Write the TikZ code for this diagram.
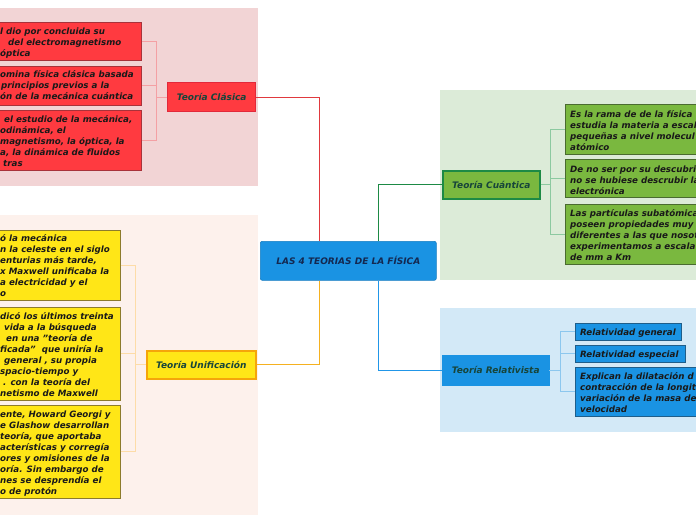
\documentclass[tikz,border=0pt]{standalone}
\usepackage{fontspec}
\setmainfont{DejaVu Sans}
\definecolor{redbg}{HTML}{F2D4D5}
\definecolor{orbg}{HTML}{FDF1EC}
\definecolor{grbg}{HTML}{DCEBD8}
\definecolor{blbg}{HTML}{D3E9F7}
\definecolor{redfill}{HTML}{FF3A40}
\definecolor{redborder}{HTML}{A8323A}
\definecolor{redtop}{HTML}{E2283A}
\definecolor{redline}{HTML}{E0393E}
\definecolor{redthin}{HTML}{F4A0A4}
\definecolor{yelfill}{HTML}{FFE617}
\definecolor{yelborder}{HTML}{8C7B2C}
\definecolor{orborder}{HTML}{F5A50A}
\definecolor{orline}{HTML}{F5B120}
\definecolor{orthin}{HTML}{FDDCA8}
\definecolor{grfill}{HTML}{7AB83F}
\definecolor{grborder}{HTML}{1D8A45}
\definecolor{grleafborder}{HTML}{4A6B30}
\definecolor{grline}{HTML}{1D8A45}
\definecolor{grthin}{HTML}{8CC9A0}
\definecolor{blfill}{HTML}{1A93E3}
\definecolor{blborder}{HTML}{1F5E8A}
\definecolor{blline}{HTML}{2196E8}
\definecolor{blthin}{HTML}{8CC7EE}
\definecolor{toptext}{HTML}{17453A}
\definecolor{centext}{HTML}{142850}
\newcommand\leaftxt{\fontsize{8.7}{11}\selectfont\bfseries\itshape}
\newcommand\toptxt{\fontsize{9}{10}\selectfont\bfseries\itshape}
\newcommand\sr{\rule{0pt}{8pt}}
\newcommand\IN[1]{\hspace*{#1pt}}
\tikzset{
  boxbase/.style={anchor=north west, inner sep=0pt, line width=0.8pt},
  redleaf/.style={boxbase, fill=redfill, draw=redborder},
  yelleaf/.style={boxbase, fill=yelfill, draw=yelborder},
  grleaf/.style={boxbase, fill=grfill, draw=grleafborder},
  blleaf/.style={boxbase, fill=blfill, draw=blborder},
  leaftext/.style={font=\leaftxt, align=left, anchor=north west, inner sep=0pt, text=black!90},
  topic/.style={font=\toptxt, text=toptext, inner sep=0pt, anchor=north west},
  mainline/.style={line width=1.1pt},
  thinline/.style={line width=1pt},
}
\begin{document}
\begin{tikzpicture}[x=1pt,y=-1pt]
\useasboundingbox (0,0) rectangle (696,520);
\clip (0,0) rectangle (696,520);
\fill[white] (0,0) rectangle (696,520);
% background areas
\fill[redbg] (0,8) rectangle (258,186);
\fill[orbg] (0,215) rectangle (258,515);
\fill[grbg] (440,90) rectangle (696,280);
\fill[blbg] (440,308) rectangle (696,432);

% central node
\node[anchor=north west, minimum width=176pt, minimum height=39pt, fill=blfill, draw=blfill!85!black, line width=0.6pt, rounded corners=2pt, font=\toptxt, text=centext] (c) at (260,241) {LAS 4 TEORIAS DE LA FÍSICA};

% topic nodes
\node[topic, minimum width=88pt, minimum height=29pt, fill=redfill, draw=redtop, line width=1.4pt] (cla) at (167,82) {Teoría Clásica};
\node[topic, minimum width=109pt, minimum height=28pt, fill=yelfill, draw=orborder, line width=1.6pt] (uni) at (146,350) {Teoría Unificación};
\node[topic, minimum width=97pt, minimum height=28pt, fill=grfill, draw=grborder, line width=1.6pt] (cua) at (442,170) {Teoría Cuántica};
\node[topic, minimum width=107pt, minimum height=30pt, fill=blfill, draw=blfill] (rel) at (442,355) {Teoría Relativista};

% red leaves
\node[redleaf, minimum width=153pt, minimum height=38pt] (r1) at (-12,22) {};
\node[redleaf, minimum width=153pt, minimum height=39pt] (r2) at (-12,66) {};
\node[redleaf, minimum width=153pt, minimum height=60pt] (r3) at (-12,110) {};
\node[leaftext] (r1t) at (0,26) {\sr l dio por concluida su\\\IN{8}del electromagnetismo\\óptica};
\node[leaftext] (r2t) at (0,69) {\sr omina física clásica basada\\\IN{1}principios previos a la\\ón de la mecánica cuántica};
\node[leaftext] (r3t) at (0,114) {\sr\IN{4}el estudio de la mecánica,\\odinámica, el\\magnetismo, la óptica, la\\a, la dinámica de fluidos\\\IN{3}tras};

% yellow leaves
\node[yelleaf, minimum width=132pt, minimum height=70pt] (y1) at (-12,230) {};
\node[yelleaf, minimum width=132pt, minimum height=93pt] (y2) at (-12,307) {};
\node[yelleaf, minimum width=132pt, minimum height=93pt] (y3) at (-12,405) {};
\node[leaftext] (y1t) at (0,233) {\sr ó la mecánica\\n la celeste en el siglo\\enturias más tarde,\\x Maxwell unificaba la\\a electricidad y el\\o};
\node[leaftext] (y2t) at (0,311) {\sr dicó los últimos treinta\\\IN{4}vida a la búsqueda\\\IN{6}en una {\char34}teoría de\\ficada{\char34}\ \ que uniría la\\\IN{4}general , su propia\\spacio-tiempo y\\\IN{3}. con la teoría del\\netismo de Maxwell};
\node[leaftext] (y3t) at (0,409) {\sr ente, Howard Georgi y\\e Glashow desarrollan\\teoría, que aportaba\\acterísticas y corregía\\ores y omisiones de la\\oría. Sin embargo de\\nes se desprendía el\\o de protón};

% green leaves
\node[grleaf, minimum width=150pt, minimum height=50pt] (g1) at (565,104) {};
\node[grleaf, minimum width=150pt, minimum height=38pt] (g2) at (565,159) {};
\node[grleaf, minimum width=150pt, minimum height=60pt] (g3) at (565,204) {};
\node[leaftext] (g1t) at (570,109) {\sr Es la rama de de la física\\estudia la materia a escal\\pequeñas a nivel molecul\\atómico};
\node[leaftext] (g2t) at (570,164) {\sr De no ser por su descubri\\no se hubiese descrubir la\\electrónica};
\node[leaftext] (g3t) at (570,208) {\sr Las partículas subatómicas\\poseen propiedades muy\\diferentes a las que nosot\\experimentamos a escala\\de mm a Km};

% blue leaves
\node[blleaf, minimum width=106pt, minimum height=17pt] (b1) at (575,323) {};
\node[blleaf, minimum width=110pt, minimum height=17pt] (b2) at (575,345) {};
\node[blleaf, minimum width=130pt, minimum height=49pt] (b3) at (575,367) {};
\node[leaftext] (b1t) at (580,327) {\sr Relatividad general};
\node[leaftext] (b2t) at (580,349) {\sr Relatividad especial};
\node[leaftext] (b3t) at (580,371) {\sr Explican la dilatación d\\contracción de la longit\\variación de la masa de\\velocidad};

% main connectors
\draw[mainline, redline] ([xshift=-29pt]c.north) |- (cla.east);
\draw[mainline, orline] ([xshift=-29pt]c.south) |- (uni.east);
\draw[mainline, grline] ([xshift=30pt]c.north) |- (cua.west);
\draw[mainline, blline] ([xshift=30pt]c.south) |- (rel.west);

% junctions
\coordinate (jr) at (156,0);
\coordinate (jy) at (135,0);
\coordinate (jg) at (550,0);
\coordinate (jb) at (560,0);

% brackets
\draw[thinline, redthin] (cla.west) -- (jr |- cla.west);
\foreach \l in {r1,r2,r3} \draw[thinline, redthin] (\l.east) -| (jr |- cla.west);
\draw[thinline, orthin] (uni.west) -- (jy |- uni.west);
\foreach \l in {y1,y2,y3} \draw[thinline, orthin] (\l.east) -| (jy |- uni.west);
\draw[thinline, grthin] (cua.east) -- (jg |- cua.east);
\foreach \l in {g1,g2,g3} \draw[thinline, grthin] (\l.west) -| (jg |- cua.east);
\draw[thinline, blthin] (rel.east) -- (jb |- rel.east);
\foreach \l in {b1,b2,b3} \draw[thinline, blthin] (\l.west) -| (jb |- rel.east);
\end{tikzpicture}
\end{document}
